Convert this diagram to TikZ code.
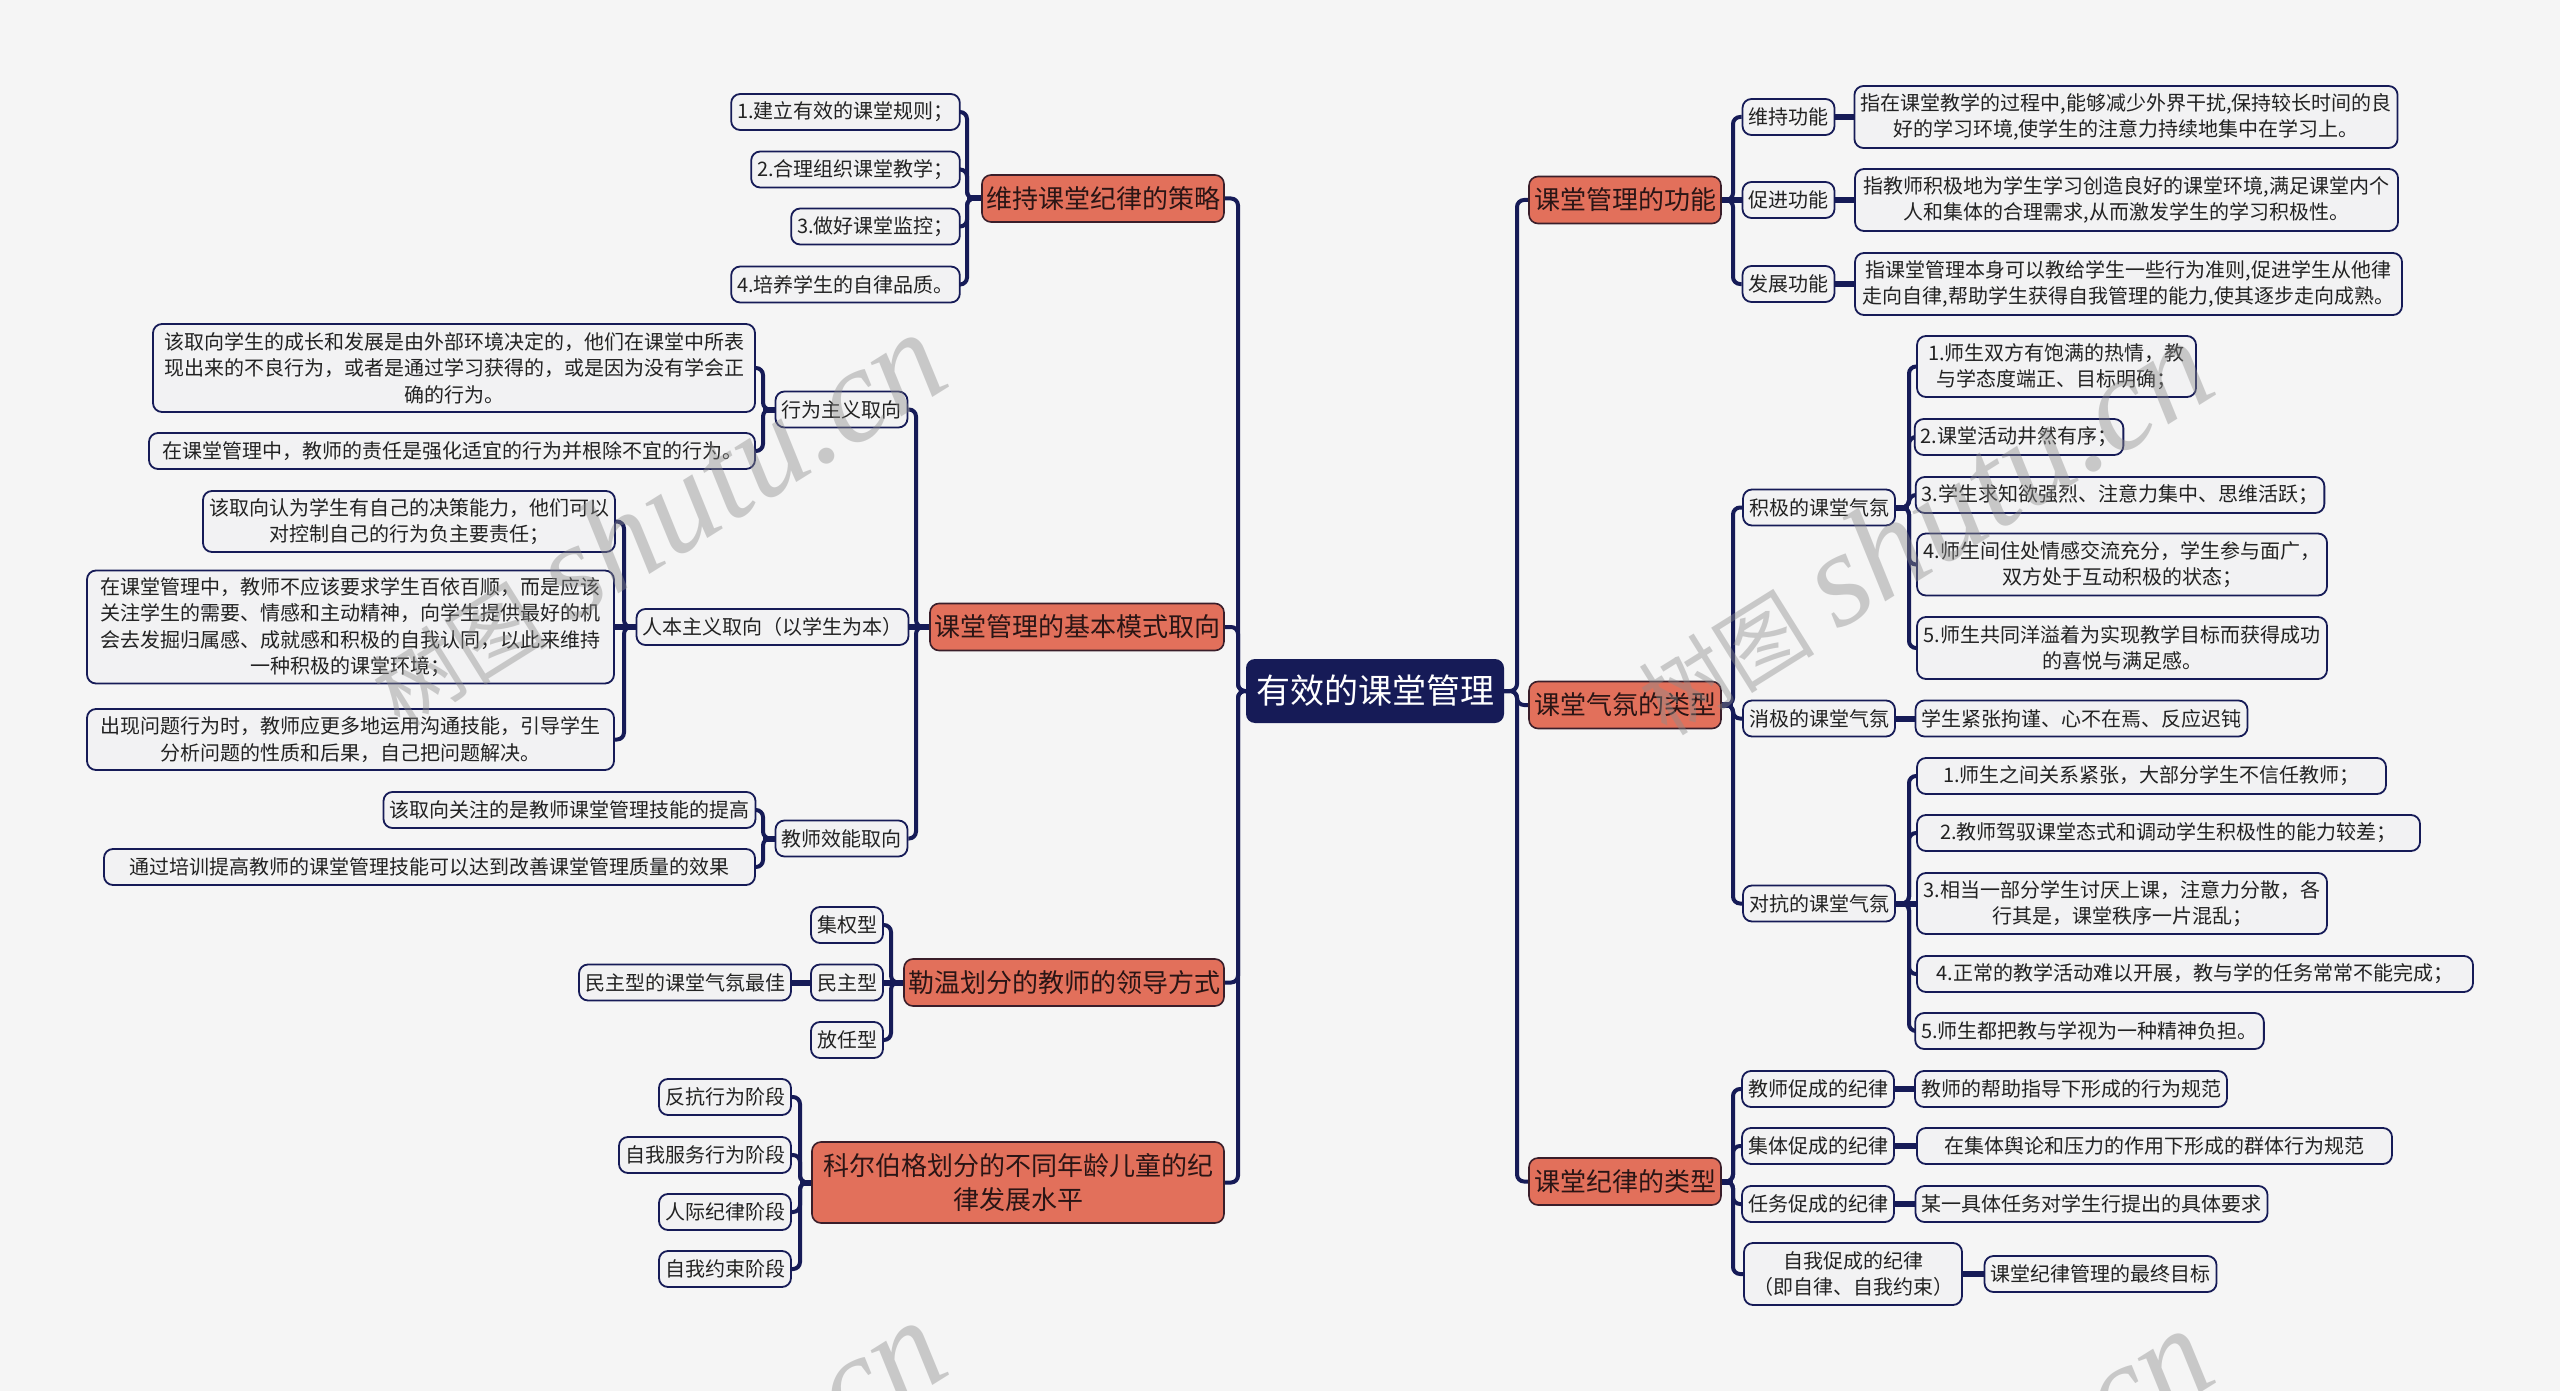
\documentclass[tikz,border=0pt]{standalone}
\usepackage{fontspec}
\setmainfont{Noto Sans CJK SC}
\newfontfamily\wmlatin{Liberation Serif}
\usetikzlibrary{calc}
\definecolor{navy}{HTML}{161B57}
\definecolor{bgc}{HTML}{F5F5F5}
\definecolor{leaffill}{HTML}{F2F2F3}
\definecolor{orangefill}{HTML}{E2705B}
\definecolor{brdr}{HTML}{3A1E2A}
\definecolor{txt}{HTML}{222222}
\definecolor{txtb}{HTML}{2A1515}
\definecolor{wmgray}{HTML}{8C8C8C}
\pgfdeclarelayer{bglayer}
\pgfsetlayers{bglayer,main}
\newcommand\mmrlink[3]{\draw[conn] (#1.east) -- (#1.east -| #2) -- (#2 |- #3.west) -- (#3.west);}
\newcommand\mmllink[3]{\draw[conn] (#1.west) -- (#1.west -| #2) -- (#2 |- #3.east) -- (#3.east);}
\newcommand\mmrstub[2]{\draw[stub] (#1.east) -- (#1.east -| #2);}
\newcommand\mmlstub[2]{\draw[stub] (#1.west) -- (#1.west -| #2);}
\newcommand\mmwm{{\fontsize{88}{90}\selectfont 树图}\hspace{24pt}{\fontsize{135}{135}\selectfont\wmlatin\itshape shutu.cn}}
\begin{document}
\begin{tikzpicture}[x=1pt,y=-1pt,
  leaf/.style={draw=navy, line width=1.8pt, fill=leaffill, rounded corners=9pt,
    inner xsep=6pt, inner ysep=4pt, minimum height=36pt, align=center,
    font=\fontsize{20}{26.5}\selectfont, text=txt},
  branch/.style={draw=brdr, line width=1.6pt, fill=orangefill, rounded corners=9pt,
    inner xsep=4pt, inner ysep=4pt, minimum height=47pt, align=center,
    font=\fontsize{26}{34}\selectfont, text=txtb},
  rootnode/.style={fill=navy, rounded corners=9pt, minimum height=64pt,
    inner xsep=8pt, text=white, font=\fontsize{34}{40}\selectfont},
  conn/.style={draw=navy, line width=4pt, rounded corners=7pt},
  stub/.style={draw=navy, line width=6pt},
  wm/.style={rotate=32, text=wmgray, text opacity=0.42, inner sep=0pt}
]
\useasboundingbox (0,0) rectangle (2560,1391);
\begin{pgfonlayer}{bglayer}
\fill[bgc] (0,0) rectangle (2560,1391);
\end{pgfonlayer}

% root
\node[rootnode, minimum width=258] (root) at (1375,691) {有效的课堂管理};

% ===== left branches =====
\node[branch, minimum width=242] (B1) at (1103,198.5) {维持课堂纪律的策略};
\node[branch, minimum width=294] (B2) at (1077,627) {课堂管理的基本模式取向};
\node[branch, minimum width=320] (B3) at (1064,982.5) {勒温划分的教师的领导方式};
\node[branch, minimum width=412, minimum height=81] (B4) at (1018,1182.5) {科尔伯格划分的不同年龄儿童的纪\\律发展水平};

% B1 children
\node[leaf, minimum width=225] (L1a) at (845.5,112) {1.建立有效的课堂规则；};
\node[leaf, minimum width=205] (L1b) at (855.5,169.5) {2.合理组织课堂教学；};
\node[leaf, minimum width=165] (L1c) at (875.5,226.5) {3.做好课堂监控；};
\node[leaf, minimum width=225] (L1d) at (845.5,284.5) {4.培养学生的自律品质。};

% B2 children
\node[leaf, minimum width=129] (M1) at (841.5,409.5) {行为主义取向};
\node[leaf, minimum width=271] (M2) at (772.5,627) {人本主义取向（以学生为本）};
\node[leaf, minimum width=129] (M3) at (841.5,838.5) {教师效能取向};

\node[leaf, minimum width=602, minimum height=88] (M1a) at (454,368) {该取向学生的成长和发展是由外部环境决定的，他们在课堂中所表\\现出来的不良行为，或者是通过学习获得的，或是因为没有学会正\\确的行为。};
\node[leaf, minimum width=606] (M1b) at (452,451) {在课堂管理中，教师的责任是强化适宜的行为并根除不宜的行为。};

\node[leaf, minimum width=410, minimum height=61] (M2a) at (409,521.5) {该取向认为学生有自己的决策能力，他们可以\\对控制自己的行为负主要责任；};
\node[leaf, minimum width=527, minimum height=113] (M2b) at (350.5,627) {在课堂管理中，教师不应该要求学生百依百顺，而是应该\\关注学生的需要、情感和主动精神，向学生提供最好的机\\会去发掘归属感、成就感和积极的自我认同，以此来维持\\一种积极的课堂环境；};
\node[leaf, minimum width=527, minimum height=61] (M2c) at (350.5,739.5) {出现问题行为时，教师应更多地运用沟通技能，引导学生\\分析问题的性质和后果，自己把问题解决。};

\node[leaf, minimum width=371] (M3a) at (569.5,810) {该取向关注的是教师课堂管理技能的提高};
\node[leaf, minimum width=651] (M3b) at (429.5,867) {通过培训提高教师的课堂管理技能可以达到改善课堂管理质量的效果};

% B3 children
\node[leaf, minimum width=70] (K1) at (847,925) {集权型};
\node[leaf, minimum width=70] (K2) at (847,982.5) {民主型};
\node[leaf, minimum width=70] (K3) at (847,1040) {放任型};
\node[leaf, minimum width=210] (K2a) at (685,982.5) {民主型的课堂气氛最佳};

% B4 children
\node[leaf, minimum width=130] (S1) at (725,1097) {反抗行为阶段};
\node[leaf, minimum width=170] (S2) at (705,1155) {自我服务行为阶段};
\node[leaf, minimum width=130] (S3) at (725,1212) {人际纪律阶段};
\node[leaf, minimum width=130] (S4) at (725,1269) {自我约束阶段};

% ===== right branches =====
\node[branch, minimum width=192] (R1) at (1625,200) {课堂管理的功能};
\node[branch, minimum width=192] (R2) at (1625,705) {课堂气氛的类型};
\node[branch, minimum width=192] (R3) at (1625,1181.5) {课堂纪律的类型};

% R1 children
\node[leaf, minimum width=89] (F1) at (1788.5,117) {维持功能};
\node[leaf, minimum width=89] (F2) at (1788.5,200) {促进功能};
\node[leaf, minimum width=89] (F3) at (1788.5,284) {发展功能};
\node[leaf, minimum width=542, minimum height=62] (F1a) at (2126,117) {指在课堂教学的过程中,能够减少外界干扰,保持较长时间的良\\好的学习环境,使学生的注意力持续地集中在学习上。};
\node[leaf, minimum width=543, minimum height=62] (F2a) at (2126.5,200) {指教师积极地为学生学习创造良好的课堂环境,满足课堂内个\\人和集体的合理需求,从而激发学生的学习积极性。};
\node[leaf, minimum width=547, minimum height=62] (F3a) at (2128.5,284) {指课堂管理本身可以教给学生一些行为准则,促进学生从他律\\走向自律,帮助学生获得自我管理的能力,使其逐步走向成熟。};

% R2 children
\node[leaf, minimum width=150] (A1) at (1819,507.5) {积极的课堂气氛};
\node[leaf, minimum width=150] (A2) at (1819,718.5) {消极的课堂气氛};
\node[leaf, minimum width=150] (A3) at (1819,903.5) {对抗的课堂气氛};

\node[leaf, minimum width=279, minimum height=61] (A1a) at (2056.5,366.5) {1.师生双方有饱满的热情，教\\与学态度端正、目标明确；};
\node[leaf, minimum width=204] (A1b) at (2019,437) {2.课堂活动井然有序；};
\node[leaf, minimum width=406] (A1c) at (2120,495) {3.学生求知欲强烈、注意力集中、思维活跃；};
\node[leaf, minimum width=410, minimum height=62] (A1d) at (2122,564.5) {4.师生间住处情感交流充分，学生参与面广，\\双方处于互动积极的状态；};
\node[leaf, minimum width=410, minimum height=62] (A1e) at (2122,648) {5.师生共同洋溢着为实现教学目标而获得成功\\的喜悦与满足感。};

\node[leaf, minimum width=329] (A2a) at (2081.5,718.5) {学生紧张拘谨、心不在焉、反应迟钝};

\node[leaf, minimum width=469] (A3a) at (2151.5,776) {1.师生之间关系紧张，大部分学生不信任教师；};
\node[leaf, minimum width=503] (A3b) at (2168.5,833) {2.教师驾驭课堂态式和调动学生积极性的能力较差；};
\node[leaf, minimum width=410, minimum height=61] (A3c) at (2122,903.5) {3.相当一部分学生讨厌上课，注意力分散，各\\行其是，课堂秩序一片混乱；};
\node[leaf, minimum width=556] (A3d) at (2195,974) {4.正常的教学活动难以开展，教与学的任务常常不能完成；};
\node[leaf, minimum width=345] (A3e) at (2089.5,1031) {5.师生都把教与学视为一种精神负担。};

% R3 children
\node[leaf, minimum width=148] (D1) at (1818,1089) {教师促成的纪律};
\node[leaf, minimum width=148] (D2) at (1818,1146) {集体促成的纪律};
\node[leaf, minimum width=148] (D3) at (1818,1204) {任务促成的纪律};
\node[leaf, minimum width=218, minimum height=62] (D4) at (1853,1274) {自我促成的纪律\\（即自律、自我约束）};
\node[leaf, minimum width=308] (D1a) at (2071,1089) {教师的帮助指导下形成的行为规范};
\node[leaf, minimum width=475] (D2a) at (2154.5,1146) {在集体舆论和压力的作用下形成的群体行为规范};
\node[leaf, minimum width=349] (D3a) at (2091.5,1204) {某一具体任务对学生行提出的具体要求};
\node[leaf, minimum width=229] (D4a) at (2100.5,1274) {课堂纪律管理的最终目标};

% ===== spines =====
\coordinate (sL) at (1238,0);
\coordinate (sR) at (1517,0);
\coordinate (s1) at (967,0);
\coordinate (s2) at (916,0);
\coordinate (sM1) at (763,0);
\coordinate (sM2) at (624,0);
\coordinate (sM3) at (763,0);
\coordinate (s3) at (891,0);
\coordinate (s4) at (800,0);
\coordinate (sRa) at (1733,0);
\coordinate (sA) at (1909,0);

% ===== connectors =====
\begin{pgfonlayer}{bglayer}
% root to left
\mmllink{root}{sL}{B1}
\mmllink{root}{sL}{B2}
\mmllink{root}{sL}{B3}
\mmllink{root}{sL}{B4}
% root to right
\mmrlink{root}{sR}{R1}
\mmrlink{root}{sR}{R2}
\mmrlink{root}{sR}{R3}

% B1
\mmlstub{B1}{s1}
\mmllink{B1}{s1}{L1a}
\mmllink{B1}{s1}{L1b}
\mmllink{B1}{s1}{L1c}
\mmllink{B1}{s1}{L1d}
% B2
\mmlstub{B2}{s2}
\mmllink{B2}{s2}{M1}
\draw[stub] (B2.west) -- (M2.east);
\mmllink{B2}{s2}{M3}
\mmlstub{M1}{sM1}
\mmllink{M1}{sM1}{M1a}
\mmllink{M1}{sM1}{M1b}
\mmlstub{M2}{sM2}
\mmllink{M2}{sM2}{M2a}
\draw[stub] (M2.west) -- (M2b.east);
\mmllink{M2}{sM2}{M2c}
\mmlstub{M3}{sM3}
\mmllink{M3}{sM3}{M3a}
\mmllink{M3}{sM3}{M3b}
% B3
\mmlstub{B3}{s3}
\mmllink{B3}{s3}{K1}
\draw[stub] (B3.west) -- (K2.east);
\mmllink{B3}{s3}{K3}
\draw[stub] (K2.west) -- (K2a.east);
% B4
\mmlstub{B4}{s4}
\mmllink{B4}{s4}{S1}
\mmllink{B4}{s4}{S2}
\mmllink{B4}{s4}{S3}
\mmllink{B4}{s4}{S4}

% R1
\mmrstub{R1}{sRa}
\mmrlink{R1}{sRa}{F1}
\draw[stub] (R1.east) -- (F2.west);
\mmrlink{R1}{sRa}{F3}
\draw[stub] (F1.east) -- (F1a.west);
\draw[stub] (F2.east) -- (F2a.west);
\draw[stub] (F3.east) -- (F3a.west);
% R2
\mmrstub{R2}{sRa}
\mmrlink{R2}{sRa}{A1}
\mmrlink{R2}{sRa}{A2}
\mmrlink{R2}{sRa}{A3}
\mmrstub{A1}{sA}
\mmrlink{A1}{sA}{A1a}
\mmrlink{A1}{sA}{A1b}
\mmrlink{A1}{sA}{A1c}
\mmrlink{A1}{sA}{A1d}
\mmrlink{A1}{sA}{A1e}
\draw[stub] (A2.east) -- (A2a.west);
\mmrstub{A3}{sA}
\mmrlink{A3}{sA}{A3a}
\mmrlink{A3}{sA}{A3b}
\draw[stub] (A3.east) -- (A3c.west);
\mmrlink{A3}{sA}{A3d}
\mmrlink{A3}{sA}{A3e}
% R3
\mmrstub{R3}{sRa}
\mmrlink{R3}{sRa}{D1}
\mmrlink{R3}{sRa}{D2}
\mmrlink{R3}{sRa}{D3}
\mmrlink{R3}{sRa}{D4}
\draw[stub] (D1.east) -- (D1a.west);
\draw[stub] (D2.east) -- (D2a.west);
\draw[stub] (D3.east) -- (D3a.west);
\draw[stub] (D4.east) -- (D4a.west);
\end{pgfonlayer}

% ===== watermarks =====
\begin{scope}
\clip (0,0) rectangle (2560,1391);
\node[wm] (wm1) at (655,520) {\mmwm};
\node[wm] (wm2) at (1922,528) {\mmwm};
\node[wm] (wm3) at (655,1508) {\mmwm};
\node[wm] (wm4) at (1922,1516) {\mmwm};
\end{scope}
\end{tikzpicture}
\end{document}
